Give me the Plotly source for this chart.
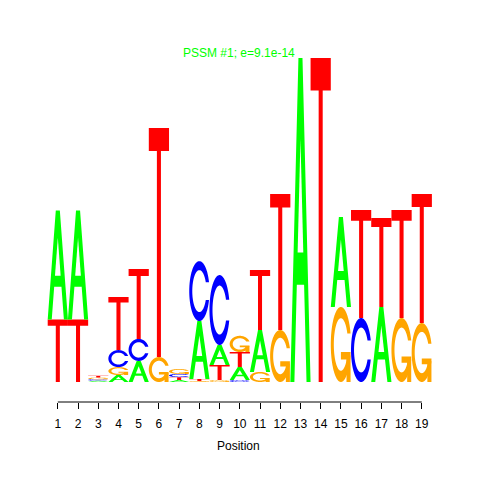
import numpy as np
import plotly.graph_objects as go

# ---- data (letter heights in bits, per position) ----
positions = list(range(1, 20))
A_h = [0.673, 0.673, 0.008, 0.043, 0.130, 0.0, 0.012, 0.358, 0.123, 0.080, 0.259, 0.0, 2.0, 0.0, 0.556, 0.0, 0.463, 0.0, 0.0]
C_h = [0.0, 0.0, 0.009, 0.105, 0.136, 0.0, 0.020, 0.370, 0.432, 0.012, 0.0, 0.0, 0.0, 0.0, 0.0, 0.395, 0.0, 0.0, 0.0]
G_h = [0.0, 0.0, 0.010, 0.049, 0.0, 0.154, 0.030, 0.006, 0.012, 0.100, 0.062, 0.321, 0.0, 0.0, 0.463, 0.0, 0.0, 0.395, 0.364]
T_h = [0.386, 0.386, 0.011, 0.327, 0.432, 1.414, 0.018, 0.012, 0.093, 0.093, 0.370, 0.840, 0.0, 2.0, 0.0, 0.667, 0.549, 0.667, 0.796]
tick_labels = [str(p) for p in positions]
title_text = "PSSM #1; e=9.1e-14"
x_title = "Position"

colors = {"A": "#00FF00", "C": "#0000FF", "G": "#FFA500", "T": "#FF0000"}

# ---- glyph templates in unit box ----
def glyph_A():
    outer = [(0, 0), (0.4, 1), (0.6, 1), (1, 0), (0.8, 0), (0.68, 0.3), (0.32, 0.3), (0.2, 0)]
    hole = [(0.36, 0.4), (0.5, 0.75), (0.64, 0.4)]
    return [(outer, None), (hole, "white")]

def glyph_T():
    return [([(0, 1), (1, 1), (1, 0.9), (0.6, 0.9), (0.6, 0), (0.4, 0), (0.4, 0.9), (0, 0.9)], None)]

def c_outline():
    a1 = np.linspace(0.3 + np.pi / 2, np.pi, 60)
    a2 = np.linspace(np.pi, 1.5 * np.pi, 60)
    xl1 = 0.5 + 0.5 * np.sin(a1); yl1 = 0.5 + 0.5 * np.cos(a1)
    xl2 = 0.5 + 0.5 * np.sin(a2); yl2 = 0.5 + 0.5 * np.cos(a2)
    xl = np.concatenate([xl1, xl2]); yl = np.concatenate([yl1, yl2])
    x = np.concatenate([xl, xl[::-1]]); y = np.concatenate([yl, 1 - yl[::-1]])
    xi1 = 0.5 + 0.35 * np.sin(a1); yi1 = 0.5 + 0.35 * np.cos(a1)
    m = yi1 <= yl1.max()
    xi1 = xi1[m]; yi1 = yi1[m]
    yi1[0] = yl1.max()
    xi2 = 0.5 + 0.35 * np.sin(a2); yi2 = 0.5 + 0.35 * np.cos(a2)
    xi = np.concatenate([xi1, xi2]); yi = np.concatenate([yi1, yi2])
    x1 = np.concatenate([xi, xi[::-1]]); y1 = np.concatenate([yi, 1 - yi[::-1]])
    x = np.concatenate([x, x1[::-1]]); y = np.concatenate([y, y1[::-1]])
    return list(zip(x, y)), xl1.max()

def glyph_C():
    pts, _ = c_outline()
    return [(pts, None)]

def glyph_G():
    pts, r1 = c_outline()
    h1 = 0.4
    bar = [(r1, h1), (0.5, h1), (0.5, h1 - 0.1), (r1 - 0.2, h1 - 0.1), (r1 - 0.2, 0), (r1, 0)]
    return [(pts, None), (bar, None)]

glyphs = {"A": glyph_A(), "C": glyph_C(), "G": glyph_G(), "T": glyph_T()}

shapes = []
heights = {"A": A_h, "C": C_h, "G": G_h, "T": T_h}
for i, pos in enumerate(positions):
    col = sorted([(heights[L][i], L) for L in "ACGT" if heights[L][i] > 0])
    y0 = 0.0
    for h, L in col:
        for poly, fillover in glyphs[L]:
            path = "M " + " L ".join(f"{pos - 0.5 + px:.4f},{y0 + h * py:.5f}" for px, py in poly) + " Z"
            fc = fillover or colors[L]
            shapes.append(dict(type="path", path=path, xref="x", yref="y",
                               fillcolor=fc, line=dict(width=0), layer="above"))
        y0 += h

# axis line from first to last tick
shapes.append(dict(type="line", xref="x", yref="paper", x0=positions[0], x1=positions[-1],
                   y0=0, y1=0, line=dict(color="black", width=1)))

fig = go.Figure()
fig.add_trace(go.Scatter(x=positions, y=[0] * len(positions), mode="markers",
                         marker=dict(opacity=0), hoverinfo="skip", showlegend=False))

font = "Liberation Sans, Arial, sans-serif"
fig.update_layout(
    width=472, height=472,
    margin=dict(l=30, r=38, t=12, b=78),
    paper_bgcolor="white", plot_bgcolor="white",
    shapes=shapes,
    showlegend=False,
    xaxis=dict(range=[0.02, 20], tickmode="array", tickvals=positions, ticktext=tick_labels,
               ticks="outside", ticklen=6, tickcolor="black", tickwidth=1, ticklabelstandoff=5,
               showline=False, showgrid=False, zeroline=False,
               tickfont=dict(family=font, size=12, color="black")),
    yaxis=dict(range=[-0.1235, 2.2346], visible=False, showgrid=False, zeroline=False),
    annotations=[
        dict(text=title_text, x=0.4975, y=0.914, xref="paper", yref="paper", showarrow=False,
             xanchor="center", yanchor="middle", font=dict(family=font, size=12, color="#00FF00")),
        dict(text=x_title, x=0.4975, y=-0.115, xref="paper", yref="paper", showarrow=False,
             xanchor="center", yanchor="middle", font=dict(family=font, size=12, color="black")),
    ],
)
fig.write_html("out.html")
